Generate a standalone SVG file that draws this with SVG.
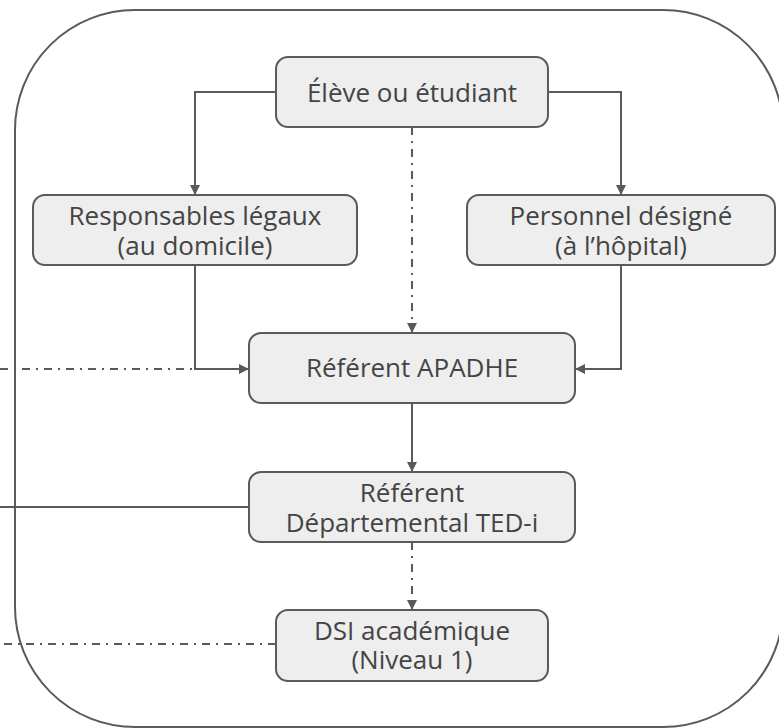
<svg xmlns="http://www.w3.org/2000/svg" width="779" height="728" viewBox="0 0 779 728">
<style>
.box{fill:#eeeeee;stroke:#5a5a5a;stroke-width:2}
.t{font-family:"Open Sans","Noto Sans",sans-serif;font-size:26px;fill:#444;text-anchor:middle}
.c{fill:none;stroke:#5a5a5a;stroke-width:2}
.dd{stroke-dasharray:8 6 2 6}
.frame{fill:none;stroke:#5a5a5a;stroke-width:2}
</style>
<defs>
<marker id="ah" viewBox="0 0 10 10" refX="10" refY="5" markerWidth="10" markerHeight="10" markerUnits="userSpaceOnUse" orient="auto">
<path d="M0,0 L10,5 L0,10 Z" fill="#5a5a5a"/>
</marker>
</defs>
<rect class="frame" x="15" y="10" width="768" height="717" rx="120" ry="120"/>
<g id="connectors">
<path class="c" d="M276,92 H195 V195" marker-end="url(#ah)"/>
<path class="c" d="M548,92 H621 V195" marker-end="url(#ah)"/>
<path class="c dd" d="M412,127 V333" marker-end="url(#ah)"/>
<path class="c dd" d="M0,369 H195"/>
<path class="c" d="M195,265 V369 H249" marker-end="url(#ah)"/>
<path class="c" d="M621,265 V369 H575" marker-end="url(#ah)"/>
<path class="c" d="M412,403 V472" marker-end="url(#ah)"/>
<path class="c" d="M0,507 H249"/>
<path class="c dd" d="M412,542 V610" marker-end="url(#ah)"/>
<path class="c dd" d="M4,644 H276"/>
</g>
<g id="eleve">
<rect class="box" x="276" y="57" width="272" height="70" rx="12"/>
<text class="t" x="412" y="102">Élève ou étudiant</text>
</g>
<g id="responsables">
<rect class="box" x="33" y="195" width="324" height="70" rx="12"/>
<text class="t" x="195" y="225">Responsables légaux</text>
<text class="t" x="195" y="255">(au domicile)</text>
</g>
<g id="personnel">
<rect class="box" x="467" y="195" width="308" height="70" rx="12"/>
<text class="t" x="621" y="225">Personnel désigné</text>
<text class="t" x="621" y="255">(à l’hôpital)</text>
</g>
<g id="apadhe">
<rect class="box" x="249" y="333" width="326" height="70" rx="12"/>
<text class="t" x="412" y="377">Référent APADHE</text>
</g>
<g id="departemental">
<rect class="box" x="249" y="472" width="326" height="70" rx="12"/>
<text class="t" x="412" y="502">Référent</text>
<text class="t" x="412" y="532">Départemental TED-i</text>
</g>
<g id="dsi">
<rect class="box" x="276" y="610" width="272" height="71" rx="12"/>
<text class="t" x="412" y="640">DSI académique</text>
<text class="t" x="412" y="669">(Niveau 1)</text>
</g>
</svg>
